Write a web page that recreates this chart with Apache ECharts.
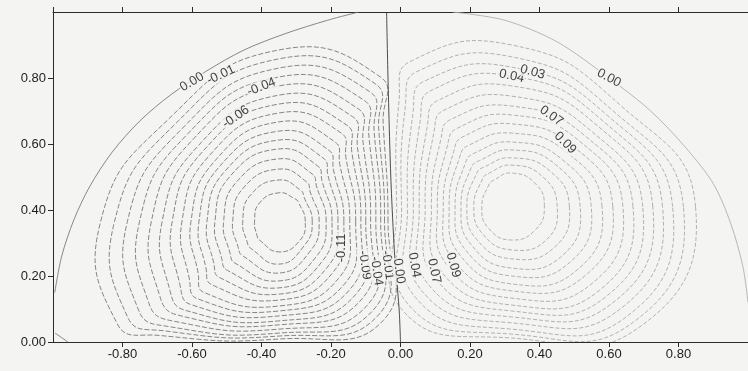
<!DOCTYPE html>
<html>
<head>
<meta charset="utf-8">
<script src="https://cdn.jsdelivr.net/npm/echarts@6/dist/echarts.min.js"></script>
<style>
  html, body { margin: 0; padding: 0; background: #f4f4f2; }
  #chart { width: 748px; height: 371px; }
</style>
</head>
<body>
<div id="chart"></div>
<script>
// stream function contours, one ring per level (step 0.01)
// each ring at spots round the vortex centre:
// X/Y = crossing on the horizontal / vertical line through the centre,
// UL/UR/LL/LR = offset along the 45 degree lines,
// NNE/NNW/WSW = offset s along the steeper / flatter corner lines

const leftCenter = [-0.35, 0.365];
const leftLevels = [-0.01, -0.02, -0.03, -0.04, -0.05, -0.06, -0.07, -0.08, -0.09, -0.10, -0.11, -0.12, -0.13, -0.14, -0.15, -0.16];
const leftXL = [-0.863, -0.823, -0.786, -0.751, -0.717, -0.686, -0.657, -0.629, -0.603, -0.580, -0.557, -0.534, -0.509, -0.483, -0.454, -0.420];
const leftXR = [-0.036, -0.046, -0.057, -0.071, -0.086, -0.100, -0.114, -0.129, -0.146, -0.163, -0.180, -0.197, -0.214, -0.234, -0.254, -0.274];
const leftYT = [0.885, 0.858, 0.830, 0.803, 0.776, 0.748, 0.721, 0.694, 0.667, 0.639, 0.612, 0.585, 0.555, 0.524, 0.491, 0.452];
const leftYB = [0.009, 0.018, 0.027, 0.039, 0.052, 0.064, 0.079, 0.094, 0.109, 0.127, 0.145, 0.164, 0.185, 0.209, 0.236, 0.273];
const leftUL = [0.314, 0.297, 0.280, 0.264, 0.248, 0.231, 0.216, 0.200, 0.184, 0.169, 0.154, 0.139, 0.121, 0.102, 0.081, 0.056];
const leftUR = [0.300, 0.287, 0.274, 0.259, 0.242, 0.226, 0.210, 0.193, 0.175, 0.157, 0.141, 0.124, 0.108, 0.090, 0.073, 0.057];
const leftLR = [0.300, 0.285, 0.270, 0.254, 0.237, 0.221, 0.205, 0.189, 0.172, 0.155, 0.139, 0.123, 0.107, 0.090, 0.073, 0.059];
const leftLL = [0.345, 0.331, 0.318, 0.302, 0.285, 0.269, 0.252, 0.234, 0.215, 0.192, 0.170, 0.148, 0.126, 0.104, 0.081, 0.056];
const leftNNE = [0.292, 0.278, 0.262, 0.245, 0.228, 0.212, 0.195, 0.179, 0.161, 0.144, 0.128, 0.112, 0.096, 0.080, 0.063, 0.046];
const leftWSW = [0.310, 0.290, 0.269, 0.249, 0.228, 0.209, 0.190, 0.172, 0.155, 0.140, 0.125, 0.110, 0.094, 0.078, 0.061, 0.042];

const rightCenter = [0.32, 0.41];
const rightLevels = [0.01, 0.02, 0.03, 0.04, 0.05, 0.06, 0.07, 0.08, 0.09, 0.10, 0.11, 0.12, 0.13, 0.14, 0.15];
const rightXL = [-0.011, 0.003, 0.020, 0.037, 0.054, 0.071, 0.089, 0.106, 0.123, 0.140, 0.157, 0.174, 0.191, 0.211, 0.234];
const rightXR = [0.849, 0.814, 0.783, 0.754, 0.726, 0.697, 0.669, 0.640, 0.611, 0.580, 0.549, 0.517, 0.486, 0.451, 0.414];
const rightYT = [0.900, 0.864, 0.833, 0.806, 0.776, 0.745, 0.715, 0.688, 0.661, 0.633, 0.606, 0.582, 0.558, 0.536, 0.512];
const rightYB = [0.012, 0.024, 0.039, 0.058, 0.076, 0.094, 0.112, 0.133, 0.155, 0.176, 0.200, 0.224, 0.252, 0.279, 0.309];
const rightUL = [0.324, 0.306, 0.284, 0.263, 0.243, 0.224, 0.204, 0.185, 0.167, 0.150, 0.133, 0.117, 0.101, 0.084, 0.066];
const rightUR = [0.310, 0.291, 0.276, 0.261, 0.246, 0.229, 0.213, 0.197, 0.180, 0.162, 0.144, 0.127, 0.109, 0.090, 0.069];
const rightLR = [0.366, 0.350, 0.332, 0.311, 0.291, 0.272, 0.253, 0.232, 0.210, 0.190, 0.168, 0.147, 0.123, 0.100, 0.069];
const rightLL = [0.314, 0.297, 0.276, 0.257, 0.238, 0.219, 0.200, 0.182, 0.165, 0.148, 0.132, 0.116, 0.100, 0.083, 0.066];
const rightNNW = [0.293, 0.273, 0.253, 0.234, 0.214, 0.195, 0.176, 0.158, 0.141, 0.124, 0.108, 0.093, 0.080, 0.067, 0.053];

// the 0.00 contour: outer wall arcs and the dividing line
const zeroArcLeft = [[-0.995, 0.15], [-0.975, 0.26], [-0.94, 0.37], [-0.895, 0.47], [-0.83, 0.575], [-0.75, 0.67], [-0.66, 0.75], [-0.56, 0.82], [-0.45, 0.885], [-0.33, 0.935], [-0.21, 0.975], [-0.12, 1.0]];
const zeroArcRight = [[0.15, 1.0], [0.30, 0.975], [0.45, 0.91], [0.60, 0.80], [0.72, 0.70], [0.82, 0.59], [0.90, 0.48], [0.95, 0.36], [0.985, 0.23], [1.0, 0.12]];
const zeroMid = [[-0.04, 1.0], [-0.036, 0.8], [-0.031, 0.6], [-0.026, 0.45], [-0.016, 0.25], [-0.004, 0.1], [0.0, 0.0]];
const zeroCorner = [[-0.994, 0.027], [-0.957, 0.0]];

// contour labels as printed on the plot
const labelTexts = ['0.00', '-0.01', '-0.04', '-0.06', '-0.11', '-0.09', '-0.04', '-0.01', '0.00', '0.04', '0.07', '0.09', '0.04', '0.03', '0.00', '0.07', '0.09'];
const labelX = [-0.600, -0.517, -0.400, -0.474, -0.171, -0.103, -0.069, -0.037, -0.004, 0.040, 0.097, 0.152, 0.320, 0.380, 0.600, 0.434, 0.474];
const labelY = [0.788, 0.809, 0.773, 0.682, 0.285, 0.233, 0.215, 0.233, 0.215, 0.233, 0.215, 0.233, 0.806, 0.818, 0.800, 0.685, 0.603];
const labelRot = [30, 25, 22, 35, 90, -82, -82, -82, -82, -80, -78, -75, -12, -15, -28, -35, -45];

function leftRing(i) {
  const c = leftCenter;
  return [
    [leftXR[i], c[1]],
    [c[0] + leftUR[i], c[1] + leftUR[i]],
    [c[0] + leftNNE[i], c[1] + 1.5 * leftNNE[i]],
    [c[0], leftYT[i]],
    [c[0] - leftUL[i], c[1] + leftUL[i]],
    [leftXL[i], c[1]],
    [c[0] - 1.5 * leftWSW[i], c[1] - leftWSW[i]],
    [c[0] - leftLL[i], c[1] - leftLL[i]],
    [c[0], leftYB[i]],
    [c[0] + leftLR[i], c[1] - leftLR[i]]
  ];
}

function rightRing(i) {
  const c = rightCenter;
  return [
    [rightXR[i], c[1]],
    [c[0] + rightUR[i], c[1] + rightUR[i]],
    [c[0], rightYT[i]],
    [c[0] - rightNNW[i], c[1] + 1.5 * rightNNW[i]],
    [c[0] - rightUL[i], c[1] + rightUL[i]],
    [rightXL[i], c[1]],
    [c[0] - rightLL[i], c[1] - rightLL[i]],
    [c[0], rightYB[i]],
    [c[0] + rightLR[i], c[1] - rightLR[i]]
  ];
}

const leftRings = leftLevels.map((_, i) => leftRing(i));
const rightRings = rightLevels.map((_, i) => rightRing(i));

function ringSeries(rings, color, dash) {
  return {
    type: 'custom',
    silent: true,
    clip: true,
    data: rings.map(r => r[0]),
    encode: { x: 0, y: 1 },
    renderItem: function (params, api) {
      const pts = rings[params.dataIndex].map(p => api.coord(p));
      return {
        type: 'polygon',
        shape: { points: pts, smooth: 0.5 },
        style: { fill: null, stroke: color, lineWidth: 0.8, lineDash: dash }
      };
    }
  };
}

function zeroSeries(pts, color) {
  return {
    type: 'line',
    data: pts,
    symbol: 'none',
    smooth: 0.3,
    silent: true,
    lineStyle: { color: color, width: 0.9 }
  };
}

const axisColor = '#2b2b2b';
const chart = echarts.init(document.getElementById('chart'));
chart.setOption({
  backgroundColor: '#f4f4f2',
  animation: false,
  grid: { left: 53, right: -6, top: 12, bottom: 29 },
  xAxis: [
    {
      type: 'value', min: -1, max: 1, interval: 0.2, position: 'bottom',
      axisLine: { show: true, onZero: false, lineStyle: { color: axisColor, width: 1 } },
      axisTick: { show: true, length: 5, lineStyle: { color: axisColor } },
      axisLabel: {
        formatter: v => v.toFixed(2), showMinLabel: false, showMaxLabel: false,
        color: '#1e1e1e', fontSize: 13, fontFamily: 'Liberation Sans, Arial', margin: 6
      },
      splitLine: { show: false }
    },
    {
      type: 'value', min: -1, max: 1, interval: 0.2, position: 'top',
      axisLine: { show: true, onZero: false, lineStyle: { color: axisColor, width: 1 } },
      axisTick: { show: true, length: 5, lineStyle: { color: axisColor } },
      axisLabel: { show: false },
      splitLine: { show: false }
    }
  ],
  yAxis: {
    type: 'value', min: 0, max: 1, interval: 0.2,
    axisLine: { show: true, onZero: false, lineStyle: { color: axisColor, width: 1 } },
    axisTick: { show: true, length: 5, lineStyle: { color: axisColor } },
    axisLabel: {
      formatter: v => v.toFixed(2), showMaxLabel: false,
      color: '#1e1e1e', fontSize: 13, fontFamily: 'Liberation Sans, Arial', margin: 7
    },
    splitLine: { show: false }
  },
  series: [
    ringSeries(leftRings, '#6a6a6a', [5, 2]),
    ringSeries(rightRings, '#a0a0a0', [4, 2]),
    zeroSeries(zeroArcLeft, '#7a7a7a'),
    zeroSeries(zeroArcRight, '#b0b0b0'),
    zeroSeries(zeroMid, '#3a3a3a'),
    zeroSeries(zeroCorner, '#7a7a7a'),
    {
      type: 'scatter',
      symbolSize: 0,
      silent: true,
      z: 5,
      data: labelTexts.map((t, i) => ({
        value: [labelX[i], labelY[i]],
        label: { formatter: t, rotate: labelRot[i] }
      })),
      label: {
        show: true, position: 'inside', color: '#111', fontSize: 13,
        fontFamily: 'Liberation Sans, Arial', backgroundColor: '#f4f4f2', padding: [0, 1]
      }
    }
  ]
});
</script>
</body>
</html>
